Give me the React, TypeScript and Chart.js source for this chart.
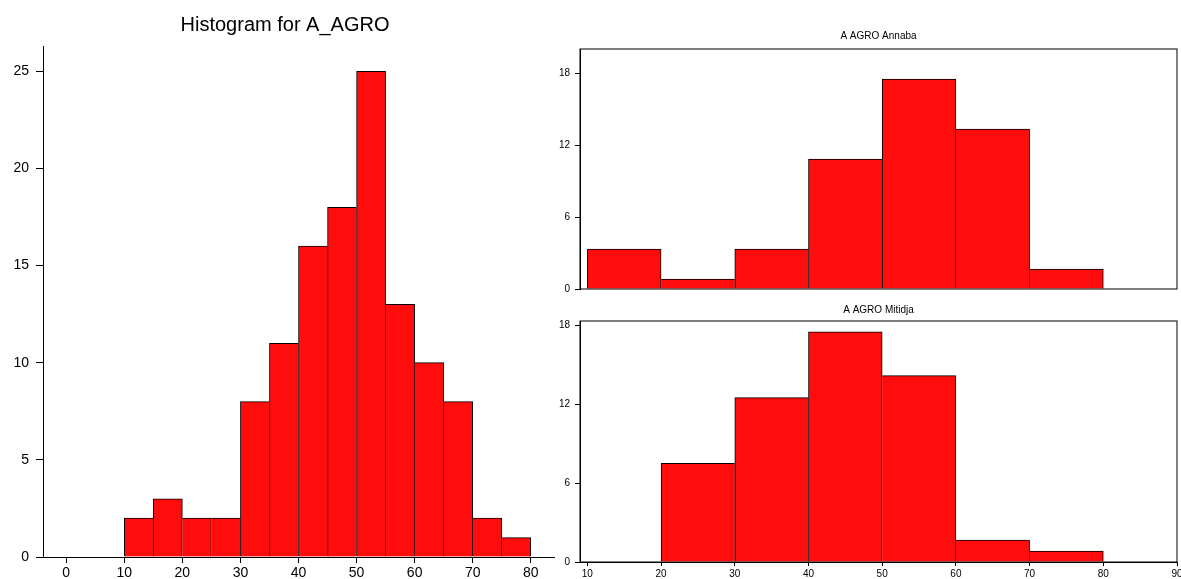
import React, { useEffect, useRef } from 'react';
import { Chart, registerables } from 'chart.js';

Chart.register(...registerables);

// ---- Data ----
const mainTitle = 'Histogram for A_AGRO';
const mainBinStarts = [10, 15, 20, 25, 30, 35, 40, 45, 50, 55, 60, 65, 70, 75];
const mainCounts = [2, 3, 2, 2, 8, 11, 16, 18, 25, 13, 10, 8, 2, 1];
const mainBinWidth = 5;
const mainXTicks = [0, 10, 20, 30, 40, 50, 60, 70, 80];
const mainYTicks = [0, 5, 10, 15, 20, 25];

const annabaTitle = 'A AGRO Annaba';
const annabaBinStarts = [10, 20, 30, 40, 50, 60, 70];
const annabaValues = [3.33, 0.83, 3.33, 10.83, 17.5, 13.33, 1.67];

const mitidjaTitle = 'A AGRO Mitidja';
const mitidjaBinStarts = [20, 30, 40, 50, 60, 70];
const mitidjaValues = [7.5, 12.5, 17.5, 14.17, 1.67, 0.83];

const panelBinWidth = 10;
const panelXTicks = [10, 20, 30, 40, 50, 60, 70, 80, 90];
const panelYTicks = [0, 6, 12, 18];

const FONT = '"Liberation Sans", Arial, sans-serif';
const RED = 'rgb(255,12,12)';

type HistCfg = {
  starts: number[];
  values: number[];
  width: number;
  xMin: number;
  xMax: number;
  yMax: number;
  xTicks: number[];
  yTicks: number[];
  padding: { left: number; top: number; right: number; bottom: number };
  yWidth: number;
  xHeight: number;
  showX: boolean;
  tickFont: number;
  yTickLen: number;
  yTickPad: number;
  xTickLen: number;
  xTickPad: number;
  box: boolean;
  title: string;
  titleFont: number;
  titleMode: 'canvas' | 'area';
  titleY: number;
};

function makeChart(canvas: HTMLCanvasElement, c: HistCfg) {
  const vals = c.values;
  const titlePlugin = {
    id: 'customTitle',
    afterDraw(chart: any) {
      const { ctx, chartArea } = chart;
      ctx.save();
      if (c.box) {
        ctx.strokeStyle = '#000';
        ctx.lineWidth = 1;
        ctx.strokeRect(chartArea.left, chartArea.top, chartArea.right - chartArea.left, chartArea.bottom - chartArea.top);
      }
      ctx.fillStyle = '#000';
      ctx.font = `${c.titleFont}px ${FONT}`;
      ctx.textAlign = 'center';
      ctx.textBaseline = 'middle';
      const x = c.titleMode === 'canvas' ? chart.width / 2 : (chartArea.left + chartArea.right) / 2;
      const y = c.titleMode === 'canvas' ? c.titleY : chartArea.top - c.titleY;
      ctx.fillText(c.title, x, y);
      ctx.restore();
    },
  };

  return new Chart(canvas, {
    type: 'bar',
    data: {
      datasets: [
        {
          data: c.starts.map((s, i) => ({ x: s + c.width / 2, y: vals[i] })),
          backgroundColor: RED,
          borderColor: '#000',
          borderWidth: (ctx: any) => {
            const i = ctx.dataIndex;
            return {
              top: 1,
              left: i === 0 || vals[i - 1] < vals[i] ? 1 : 0,
              right: i === vals.length - 1 || vals[i + 1] <= vals[i] ? 1 : 0,
              bottom: 0,
            };
          },
          barPercentage: 1,
          categoryPercentage: 1,
        } as any,
      ],
    },
    options: {
      responsive: false,
      maintainAspectRatio: false,
      animation: false,
      devicePixelRatio: 1,
      layout: { padding: c.padding },
      plugins: { legend: { display: false }, tooltip: { enabled: false }, title: { display: false } },
      scales: {
        x: {
          type: 'linear',
          display: c.showX,
          min: c.xMin,
          max: c.xMax,
          offset: false,
          afterBuildTicks: (axis: any) => {
            axis.ticks = c.xTicks.map((v) => ({ value: v }));
          },
          afterFit: (axis: any) => {
            axis.height = c.xHeight;
          },
          grid: {
            offset: false,
            drawOnChartArea: false,
            drawTicks: true,
            tickLength: c.xTickLen,
            color: '#000',
          },
          border: { display: true, color: '#000', width: 1 },
          ticks: {
            color: '#000',
            font: { size: c.tickFont, family: FONT },
            padding: c.xTickPad,
            maxRotation: 0,
            autoSkip: false,
          },
        },
        y: {
          type: 'linear',
          min: 0,
          max: c.yMax,
          afterBuildTicks: (axis: any) => {
            axis.ticks = c.yTicks.map((v) => ({ value: v }));
          },
          afterFit: (axis: any) => {
            axis.width = c.yWidth;
          },
          grid: {
            drawOnChartArea: false,
            drawTicks: true,
            tickLength: c.yTickLen,
            color: '#000',
          },
          border: { display: true, color: '#000', width: 1 },
          ticks: {
            color: '#000',
            font: { size: c.tickFont, family: FONT },
            padding: c.yTickPad,
            autoSkip: false,
          },
        },
      },
    } as any,
    plugins: [titlePlugin],
  });
}

function Hist({ cfg, style }: { cfg: HistCfg; style: React.CSSProperties }) {
  const ref = useRef<HTMLCanvasElement | null>(null);
  useEffect(() => {
    if (!ref.current) return;
    const chart = makeChart(ref.current, cfg);
    return () => chart.destroy();
  }, []);
  return (
    <canvas
      ref={ref}
      width={style.width as number}
      height={style.height as number}
      style={{ position: 'absolute', display: 'block', ...style }}
    />
  );
}

const mainCfg: HistCfg = {
  starts: mainBinStarts,
  values: mainCounts,
  width: mainBinWidth,
  xMin: -4,
  xMax: 84,
  yMax: 26.3,
  xTicks: mainXTicks,
  yTicks: mainYTicks,
  padding: { left: 0, top: 46, right: 16, bottom: 0 },
  yWidth: 43,
  xHeight: 22,
  showX: true,
  tickFont: 14,
  yTickLen: 7,
  yTickPad: 7,
  xTickLen: 6,
  xTickPad: 2,
  box: false,
  title: mainTitle,
  titleFont: 20,
  titleMode: 'canvas',
  titleY: 25,
};

const annabaCfg: HistCfg = {
  starts: annabaBinStarts,
  values: annabaValues,
  width: panelBinWidth,
  xMin: 9,
  xMax: 90,
  yMax: 20,
  xTicks: panelXTicks,
  yTicks: panelYTicks,
  padding: { left: 0, top: 49, right: 18, bottom: 11 },
  yWidth: 60,
  xHeight: 0,
  showX: false,
  tickFont: 10,
  yTickLen: 5,
  yTickPad: 5,
  xTickLen: 4,
  xTickPad: 2,
  box: true,
  title: annabaTitle,
  titleFont: 10,
  titleMode: 'area',
  titleY: 13,
};

const mitidjaCfg: HistCfg = {
  starts: mitidjaBinStarts,
  values: mitidjaValues,
  width: panelBinWidth,
  xMin: 9,
  xMax: 90,
  yMax: 18.32,
  xTicks: panelXTicks,
  yTicks: panelYTicks,
  padding: { left: 0, top: 21, right: 18, bottom: 0 },
  yWidth: 60,
  xHeight: 17,
  showX: true,
  tickFont: 10,
  yTickLen: 5,
  yTickPad: 5,
  xTickLen: 4,
  xTickPad: 2,
  box: true,
  title: mitidjaTitle,
  titleFont: 10,
  titleMode: 'area',
  titleY: 11,
};

export default function App() {
  return (
    <div
      style={{
        position: 'fixed',
        left: 0,
        top: 0,
        width: 1181,
        height: 579,
        overflow: 'hidden',
        background: '#fff',
      }}
    >
      <Hist cfg={mainCfg} style={{ left: 0, top: 0, width: 570, height: 579 }} />
      <Hist cfg={annabaCfg} style={{ left: 520, top: 0, width: 675, height: 300 }} />
      <Hist cfg={mitidjaCfg} style={{ left: 520, top: 300, width: 675, height: 279 }} />
    </div>
  );
}
